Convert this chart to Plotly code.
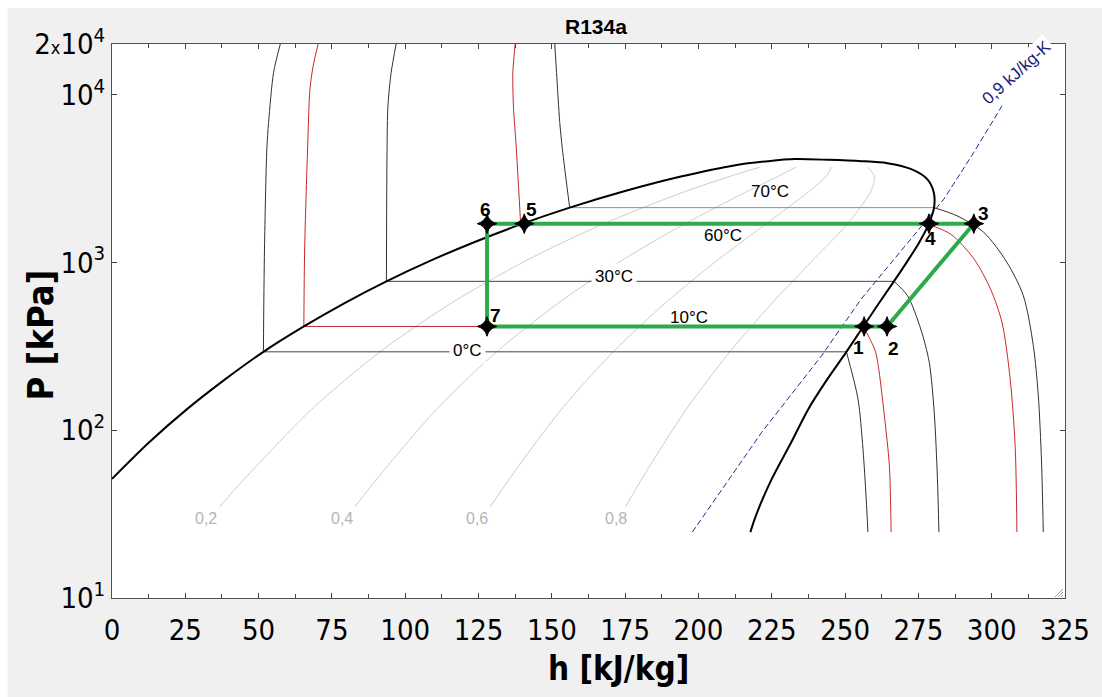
import plotly.graph_objects as go
import math

# ---------------- data ----------------
# saturation dome (h [kJ/kg], P [kPa]) from liquid side to vapour side
DOME_H = [0.0, 12.59, 25.49, 38.55, 51.63, 65.43, 79.32, 93.58, 108.26, 123.49, 139.36, 156.08,
          174.05, 194.0, 212.6, 223.8, 232.9, 244.1, 255.6, 264.4, 272.6, 278.0, 280.2, 280.34,
          278.47, 275.33, 271.27, 266.66, 261.59, 256.22, 250.45, 243.9, 237.4, 231.6, 225.0,
          219.6, 217.7]
DOME_P = [51.25, 84.4, 133.0, 200.7, 293.0, 415.0, 572.1, 770.6, 1017, 1318, 1683, 2118,
          2633, 3244, 3793, 4009, 4122, 4083, 4009, 3899, 3590, 3133, 2633, 2118,
          1683, 1318, 1017, 770.6, 572.1, 415.0, 293.0, 200.7, 133.0, 84.4, 51.25,
          31.0, 24.7]

# isotherms: compressed-liquid part and superheated-vapour part
ISO_LABELS = ["0°C", "10°C", "30°C", "60°C", "70°C"]
ISO_0_LIQ_H = [57.4, 55.1, 53.4, 52.8, 52.0, 51.63]
ISO_0_LIQ_P = [20000, 13520, 6810, 4720, 1200, 293.0]
ISO_0_VAP_H = [250.45, 254.4, 256.1, 257.2, 257.8]
ISO_0_VAP_P = [293.0, 153.5, 77.4, 39.0, 24.7]

ISO_10_LIQ_H = [70.3, 68.6, 67.5, 66.7, 65.7, 65.43]
ISO_10_LIQ_P = [20000, 14800, 10770, 4720, 1200, 415.0]
ISO_10_VAP_H = [256.22, 257.3, 260.2, 261.3, 263.4, 265.1, 265.7]
ISO_10_VAP_P = [415.0, 383, 300, 243, 122, 61.5, 24.7]

ISO_30_LIQ_H = [96.9, 95.2, 94.1, 93.8, 93.58]
ISO_30_LIQ_P = [20000, 13520, 8550, 4720, 770.6]
ISO_30_VAP_H = [266.66, 271.3, 275.8, 278.7, 280.4, 281.5, 282.0]
ISO_30_VAP_P = [770.6, 632, 401, 254, 128, 51.3, 24.7]

ISO_60_LIQ_H = [137.5, 136.7, 136.9, 137.9, 139.36]
ISO_60_LIQ_P = [20000, 13500, 8550, 4720, 1683]
ISO_60_VAP_H = [278.47, 286.0, 294.0, 299.6, 303.5, 306.3, 308.0, 308.6]
ISO_60_VAP_P = [1683, 1473, 1046, 693, 440, 202, 80.9, 24.7]

ISO_70_LIQ_H = [151.0, 151.6, 152.7, 153.6, 156.08]
ISO_70_LIQ_P = [20000, 13520, 6810, 4720, 2118]
ISO_70_VAP_H = [280.34, 288.2, 297.3, 305.2, 310.8, 314.2, 315.9, 317.0, 317.6]
ISO_70_VAP_P = [2118, 1893, 1509, 1000, 632, 319, 160.6, 64.6, 24.7]

# constant-quality lines (pressure levels shared by all lines)
Q_P = [35.0, 51.25, 133.0, 293.0, 572.1, 1017, 1683, 2633, 3244, 3690]
Q02_H = [36.74, 45.17, 68.07, 91.39, 115.77, 140.86, 167.18, 195.22, 210.5, 220.9]
Q04_H = [82.88, 90.34, 110.66, 131.16, 152.23, 173.46, 195.0, 216.39, 227.0, 233.2]
Q06_H = [129.02, 135.52, 153.24, 170.92, 188.68, 206.07, 222.83, 237.56, 243.5, 245.4]
Q08_H = [175.16, 180.69, 195.83, 210.69, 225.14, 238.67, 250.65, 258.73, 260.0, 257.7]
Q_LABELS = ["0,2", "0,4", "0,6", "0,8"]
Q_LABEL_H = [32.0, 78.4, 124.5, 171.9]
Q_LABEL_P = [29.7, 29.7, 29.7, 29.7]

# isentrope s = 0.9 kJ/kg-K
S09_H = [197.9, 221.6, 242.0, 255.5, 283.7, 293.9, 303.5]
S09_P = [24.7, 97.3, 278, 605, 2381, 4518, 8552]

# refrigeration cycle states
CYCLE_STATES = ["1", "2", "3", "4", "5", "6", "7"]
CYCLE_H = [256.5, 264.3, 293.9, 278.6, 140.6, 127.9, 127.9]
CYCLE_P = [415, 415, 1700, 1700, 1700, 1700, 415]

# axis ticks
X_TICKS = list(range(0, 326, 25))
Y_TICKVALS = [10, 100, 1000, 10000, 20000]
Y_TICKTEXT = ["10<sup>1</sup>", "10<sup>2</sup>", "10<sup>3</sup>", "10<sup>4</sup>",
              "2<span style='font-size:18px'>x</span>10<sup>4</sup>"]

# ---------------- figure ----------------
NARROW = "Liberation Sans Narrow, Arial Narrow, DejaVu Sans Condensed, Liberation Sans, Arial"
ARIAL = "Liberation Sans, Arial"
BLACKLINE = "#303030"
RED = "#c82828"
QGRAY = "#cdcdcd"

fig = go.Figure()

def add_line(h, p, color, width=1, shape="spline", dash=None):
    fig.add_trace(go.Scatter(x=h, y=p, mode="lines",
                             line=dict(color=color, width=width, shape=shape,
                                       smoothing=0.8 if shape == "spline" else None,
                                       dash=dash),
                             hoverinfo="skip", showlegend=False))

# quality lines
for qh in [Q02_H, Q04_H, Q06_H, Q08_H]:
    add_line(qh, Q_P, QGRAY, 1)

# isotherms
iso_sets = [
    (ISO_0_LIQ_H, ISO_0_LIQ_P, ISO_0_VAP_H, ISO_0_VAP_P, BLACKLINE, "#454545"),
    (ISO_10_LIQ_H, ISO_10_LIQ_P, ISO_10_VAP_H, ISO_10_VAP_P, RED, RED),
    (ISO_30_LIQ_H, ISO_30_LIQ_P, ISO_30_VAP_H, ISO_30_VAP_P, BLACKLINE, "#454545"),
    (ISO_60_LIQ_H, ISO_60_LIQ_P, ISO_60_VAP_H, ISO_60_VAP_P, RED, RED),
    (ISO_70_LIQ_H, ISO_70_LIQ_P, ISO_70_VAP_H, ISO_70_VAP_P, BLACKLINE, "#8c8c8c"),
]
for lh, lp, vh, vp, col, hcol in iso_sets:
    add_line(lh, lp, col, 1)
    add_line([lh[-1], vh[0]], [lp[-1], vp[0]], hcol, 1, shape="linear")
    add_line(vh, vp, col, 1)

# isentrope
add_line(S09_H, S09_P, "#2a2a88", 1, shape="linear", dash="6px,3px")

# saturation dome
add_line(DOME_H, DOME_P, "black", 2)

# cycle
fig.add_trace(go.Scatter(x=CYCLE_H + [CYCLE_H[0]], y=CYCLE_P + [CYCLE_P[0]], mode="lines",
                         line=dict(color="#2daa4b", width=4), hoverinfo="skip", showlegend=False))
fig.add_trace(go.Scatter(x=CYCLE_H, y=CYCLE_P, mode="markers",
                         marker=dict(symbol="star-diamond", size=14, color="black",
                                     line=dict(color="black", width=1)),
                         hoverinfo="skip", showlegend=False))

# ---------------- annotations ----------------
ann = []

def add_ann(**kw):
    kw.setdefault("showarrow", False)
    kw.setdefault("xanchor", "center")
    kw.setdefault("yanchor", "middle")
    ann.append(kw)

# isotherm labels (h, log10 P)
iso_label_pos = [(121.1, 2.475, True), (196.7, 2.670, False), (171.2, 2.914, True),
                 (208.5, 3.160, False), (224.4, 3.423, False)]
for txt, (hx, ly, bg) in zip(ISO_LABELS, iso_label_pos):
    add_ann(x=hx, y=ly, xref="x", yref="y", text=txt,
            font=dict(family=ARIAL, size=17, color="black"),
            bgcolor="white" if bg else "rgba(0,0,0,0)", borderpad=3 if bg else 0)
# quality labels
for txt, hx, pp in zip(Q_LABELS, Q_LABEL_H, Q_LABEL_P):
    add_ann(x=hx, y=math.log10(pp), xref="x", yref="y", text=txt,
            font=dict(family=ARIAL, size=16, color="#b4b4b4"))
# state labels
state_pos = [(254.7, 2.494), (266.4, 2.488), (297.1, 3.293), (279.2, 3.143),
             (143.2, 3.313), (127.3, 3.313), (130.7, 2.682)]
for txt, (hx, ly) in zip(CYCLE_STATES, state_pos):
    add_ann(x=hx, y=ly, xref="x", yref="y", text="<b>%s</b>" % txt,
            font=dict(family=ARIAL, size=19, color="black"))
# isentrope label
add_ann(x=308.6, y=4.13, xref="x", yref="y", text="0,9 kJ/kg-K",
        textangle=-42, font=dict(family=ARIAL, size=17, color="#1c1c7a"),
        bgcolor="white", borderpad=1)
# title and axis titles
add_ann(x=0.508, y=1.031, xref="paper", yref="paper", text="<b>R134a</b>",
        font=dict(family=ARIAL, size=21, color="black"))
add_ann(x=-0.075, y=0.475, xref="paper", yref="paper", text="<b>P [kPa]</b>",
        textangle=-90, font=dict(family=NARROW, size=36, color="black"))
add_ann(x=0.531, y=-0.128, xref="paper", yref="paper", text="<b>h [kJ/kg]</b>",
        font=dict(family=NARROW, size=33, color="black"))

def px(x):
    return (x - 112) / 960.0

def py(y):
    return (598 - y) / 554.0

shapes = [
    dict(type="rect", xref="paper", yref="paper", x0=-0.13, x1=1.05, y0=1.065, y1=1.09,
         fillcolor="white", line=dict(width=0), layer="below"),
    dict(type="rect", xref="paper", yref="paper", x0=-0.13, x1=-0.1094, y0=-0.2, y1=1.09,
         fillcolor="white", line=dict(width=0), layer="below"),
]
# window resize grip in the lower-right corner
for i in range(3):
    shapes.append(dict(type="line", xref="paper", yref="paper",
                       x0=px(1070), y0=py(589 + 3 * i), x1=px(1062 + 3 * i), y1=py(597),
                       line=dict(color="#9a9a9a", width=1)))

fig.update_layout(
    width=1102, height=697, autosize=False,
    margin=dict(l=112, r=30, t=44, b=99),
    paper_bgcolor="#f0f0f0", plot_bgcolor="white",
    annotations=ann, shapes=shapes,
    xaxis=dict(range=[0, 325], tickvals=X_TICKS, ticks="inside", ticklen=5, tickcolor="#404040",
               showline=True, linecolor="#505050", linewidth=1, mirror="ticks", showgrid=False,
               zeroline=False, tickfont=dict(family=NARROW, size=29, color="black"),
               ticklabelstandoff=6,
               minor=dict(dtick=12.5, ticks="inside", ticklen=4, tickcolor="#404040", showgrid=False)),
    yaxis=dict(type="log", range=[1, math.log10(20000)], tickvals=Y_TICKVALS, ticktext=Y_TICKTEXT,
               ticks="inside", ticklen=5, tickcolor="#404040", showline=True, linecolor="#505050",
               linewidth=1, mirror="ticks", showgrid=False, zeroline=False,
               tickfont=dict(family=NARROW, size=29, color="black")),
)

fig.write_html("out.html")
